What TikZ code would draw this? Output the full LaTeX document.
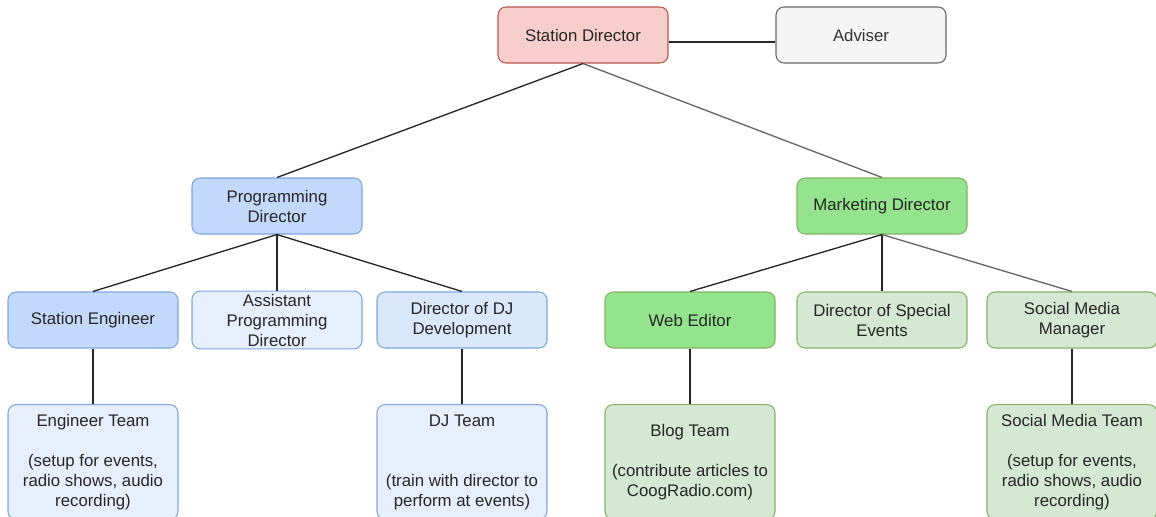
\documentclass[tikz,border=0pt]{standalone}
\usepackage{fontspec}
\setmainfont{Liberation Sans}
\usepackage{xcolor}
\usetikzlibrary{arrows}

\definecolor{redfill}{HTML}{F8CECC}
\definecolor{redline}{HTML}{B85450}
\definecolor{grayfill}{HTML}{F5F5F5}
\definecolor{grayline}{HTML}{666666}
\definecolor{graytext}{HTML}{333333}
\definecolor{bluefill}{HTML}{C3D9FB}
\definecolor{bluemid}{HTML}{DAE8FC}
\definecolor{bluelight}{HTML}{E7EFFC}
\definecolor{blueline}{HTML}{7EA6E0}
\definecolor{greenfill}{HTML}{94E48D}
\definecolor{greenlight}{HTML}{D5E8D4}
\definecolor{greenline}{HTML}{82B366}

\tikzset{
  box/.style={draw, rounded corners=6pt, line width=0.8pt, align=center,
    minimum width=127.5pt, minimum height=42pt, inner sep=2pt,
    text=black!85, font=\fontsize{12.6}{15}\selectfont},
  team/.style={box, minimum height=86pt},
  link/.style={line width=1pt, color=black!85},
  softlink/.style={line width=1pt, color=grayline}
}

\begin{document}
\begin{tikzpicture}[x=0.75pt, y=-0.75pt]
    \useasboundingbox (0,0) rectangle (1156,517);
    \clip (0,0) rectangle (1156,517);
    % top
    \node[box, fill=redfill, draw=redline] (sd) at (583,35) {Station Director};
    \node[box, fill=grayfill, draw=grayline, text=graytext] (adv) at (861,35) {Adviser};
    % directors
    \node[box, fill=bluefill, draw=blueline] (pd) at (277,206) {Programming\\Director};
    \node[box, fill=greenfill, draw=greenline] (md) at (882,206) {Marketing Director};
    % second row
    \node[box, fill=bluefill, draw=blueline] (se) at (93,320) {Station Engineer};
    \node[box, fill=bluelight, draw=blueline] (apd) at (277,320) {Assistant\\Programming\\Director};
    \node[box, fill=bluemid, draw=blueline] (djd) at (462,320) {Director of DJ\\Development};
    \node[box, fill=greenfill, draw=greenline] (we) at (690,320) {Web Editor};
    \node[box, fill=greenlight, draw=greenline] (dse) at (882,320) {Director of Special\\Events};
    \node[box, fill=greenlight, draw=greenline] (smm) at (1072,320) {Social Media\\Manager};
    % teams
    \node[team, fill=bluelight, draw=blueline] (et) at (93,462)
      {Engineer Team\\ \mbox{}\\(setup for events,\\radio shows, audio\\recording)};
    \node[team, fill=bluelight, draw=blueline] (djt) at (462,462)
      {DJ Team\\ \mbox{}\\ \mbox{}\\(train with director to\\perform at events)};
    \node[team, fill=greenlight, draw=greenline] (bt) at (690,462)
      {Blog Team\\ \mbox{}\\(contribute articles to\\CoogRadio.com)};
    \node[team, fill=greenlight, draw=greenline] (smt) at (1072,462)
      {Social Media Team\\ \mbox{}\\(setup for events,\\radio shows, audio\\recording)};
    % links
    \draw[link] ([yshift=-5.25pt]sd.east) -- ([yshift=-5.25pt]adv.west);
    \draw[link] (sd.south) -- (pd.north);
    \draw[softlink] (sd.south) -- (md.north);
    \draw[link] (pd.south) -- (se.north);
    \draw[link] (pd.south) -- (apd.north);
    \draw[link] (pd.south) -- (djd.north);
    \draw[link] (md.south) -- (we.north);
    \draw[link] (md.south) -- (dse.north);
    \draw[softlink] (md.south) -- (smm.north);
    \draw[link] (se.south) -- (et.north);
    \draw[link] (djd.south) -- (djt.north);
    \draw[link] (we.south) -- (bt.north);
    \draw[link] (smm.south) -- (smt.north);
\end{tikzpicture}
\end{document}
